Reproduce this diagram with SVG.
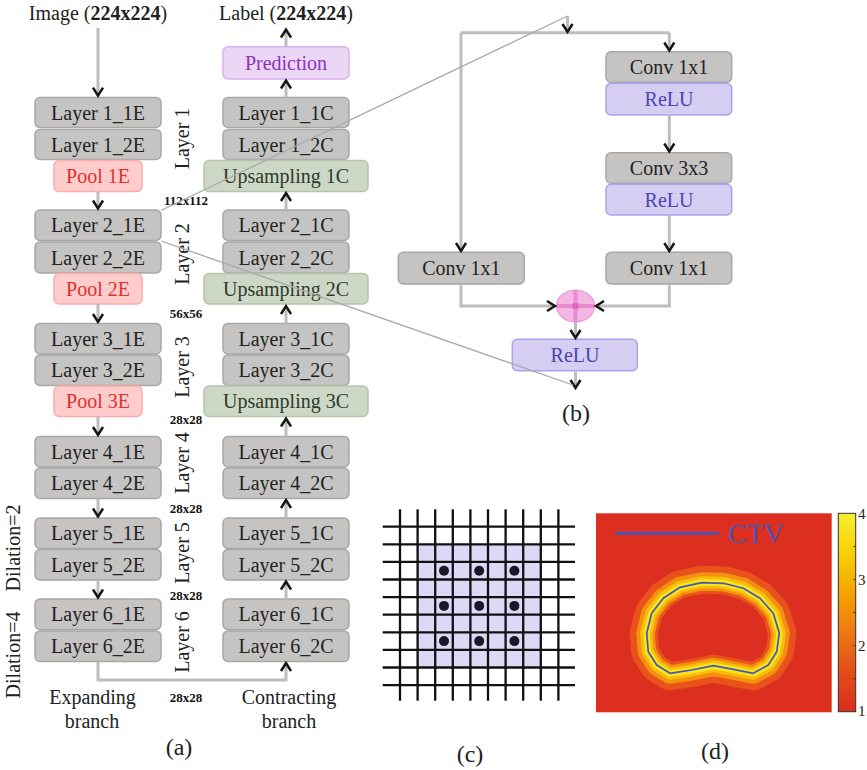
<svg xmlns="http://www.w3.org/2000/svg" xmlns:xlink="http://www.w3.org/1999/xlink" width="867" height="770" viewBox="0 0 867 770">
<style>
text{font-family:"Liberation Serif","DejaVu Serif",serif;font-size:20px;fill:#222}
.c{text-anchor:middle}
.gray{fill:#c5c4c3;stroke:#a8a7a6;stroke-width:1.5}
.pool{fill:#ffcccc;stroke:#ffabab;stroke-width:1.5}
.pt{fill:#e3302c}
.up{fill:#cdd7c6;stroke:#b4c5ac;stroke-width:1.5}
.ut{fill:#2e3a2b}
.pred{fill:#ecd6f6;stroke:#dcb0ee;stroke-width:1.5}
.prt{fill:#8c32c0}
.relu{fill:#d5cef2;stroke:#aaa2ea;stroke-width:1.5}
.rt{fill:#4a45b3}
.sz{font-size:13px;font-weight:bold;text-anchor:middle;fill:#111}
.conn{fill:none;stroke:#bdbdbd;stroke-width:3;marker-end:url(#chev)}
.plain{fill:none;stroke:#bdbdbd;stroke-width:3}
.thin{fill:none;stroke:#aaaaaa;stroke-width:1.3}
.grid line{stroke:#111;stroke-width:2.3}
.lab{font-size:24px}
.tick{font-size:15px;fill:#222}
</style>
<defs>
<marker id="chev" viewBox="-10 -7 12 14" refX="0" refY="0" markerWidth="12" markerHeight="14" markerUnits="userSpaceOnUse" orient="auto" overflow="visible">
<path d="M-8,-5 L0,0 L-8,5" fill="none" stroke="#161616" stroke-width="2.5" stroke-linejoin="miter"/>
</marker>
<path id="ctv" d="M646.7,633.3 L651.7,613.3 L663.3,598.3 L680,587.3 L701.7,582.7 L723.3,583.3 L743.3,588.3 L760,598.3 L773.3,613.3 L779.3,633.3 L776.7,651.7 L768.3,665 L753.3,673.3 L733.3,669.3 L713.3,665.7 L691.7,670 L670,673.3 L656.7,665 L648.3,651.7 Z"/>
<clipPath id="inside"><use xlink:href="#ctv"/></clipPath>
<linearGradient id="cbar" x1="0" y1="0" x2="0" y2="1">
<stop offset="0" stop-color="#f7ee30"/>
<stop offset="0.2" stop-color="#f8d006"/>
<stop offset="0.4" stop-color="#f5a300"/>
<stop offset="0.6" stop-color="#ee7812"/>
<stop offset="0.78" stop-color="#e4501a"/>
<stop offset="1" stop-color="#db2e20"/>
</linearGradient>
</defs>
<rect width="867" height="770" fill="#ffffff"/>

<!-- Titles -->
<g id="title-image"><text x="98" y="20" class="c">Image (<tspan font-weight="bold">224x224</tspan>)</text></g>
<g id="title-label"><text x="286" y="20" class="c">Label (<tspan font-weight="bold">224x224</tspan>)</text></g>

<!-- Expanding branch -->
<g id="L1_1E"><rect class="gray" x="35" y="97.5" width="126" height="30" rx="5"/><text class="c" x="98" y="119.5">Layer 1_1E</text></g>
<g id="L1_2E"><rect class="gray" x="35" y="129.5" width="126" height="30" rx="5"/><text class="c" x="98" y="151.5">Layer 1_2E</text></g>
<g id="P1E"><rect class="pool" x="54" y="160.5" width="88" height="31" rx="5"/><text class="c pt" x="98" y="183">Pool 1E</text></g>
<g id="L2_1E"><rect class="gray" x="35" y="210" width="126" height="30.5" rx="5"/><text class="c" x="98" y="232.3">Layer 2_1E</text></g>
<g id="L2_2E"><rect class="gray" x="35" y="242" width="126" height="31" rx="5"/><text class="c" x="98" y="264.5">Layer 2_2E</text></g>
<g id="P2E"><rect class="pool" x="54" y="273.5" width="88" height="30.5" rx="5"/><text class="c pt" x="98" y="295.8">Pool 2E</text></g>
<g id="L3_1E"><rect class="gray" x="35" y="323.5" width="126" height="30.5" rx="5"/><text class="c" x="98" y="345.8">Layer 3_1E</text></g>
<g id="L3_2E"><rect class="gray" x="35" y="355" width="126" height="30.5" rx="5"/><text class="c" x="98" y="377.3">Layer 3_2E</text></g>
<g id="P3E"><rect class="pool" x="54" y="386" width="88" height="30.5" rx="5"/><text class="c pt" x="98" y="408.3">Pool 3E</text></g>
<g id="L4_1E"><rect class="gray" x="35" y="436.5" width="126" height="30.5" rx="5"/><text class="c" x="98" y="458.8">Layer 4_1E</text></g>
<g id="L4_2E"><rect class="gray" x="35" y="468" width="126" height="30.5" rx="5"/><text class="c" x="98" y="490.3">Layer 4_2E</text></g>
<g id="L5_1E"><rect class="gray" x="35" y="518" width="126" height="30.5" rx="5"/><text class="c" x="98" y="540.3">Layer 5_1E</text></g>
<g id="L5_2E"><rect class="gray" x="35" y="549.5" width="126" height="30.5" rx="5"/><text class="c" x="98" y="571.8">Layer 5_2E</text></g>
<g id="L6_1E"><rect class="gray" x="35" y="599" width="126" height="30.5" rx="5"/><text class="c" x="98" y="621.3">Layer 6_1E</text></g>
<g id="L6_2E"><rect class="gray" x="35" y="631" width="126" height="30.5" rx="5"/><text class="c" x="98" y="653.3">Layer 6_2E</text></g>

<!-- Contracting branch -->
<g id="Pred"><rect class="pred" x="223" y="46.7" width="126" height="32.3" rx="5"/><text class="c prt" x="286" y="69.8">Prediction</text></g>
<g id="L1_1C"><rect class="gray" x="223" y="97.5" width="126" height="30" rx="5"/><text class="c" x="286" y="119.5">Layer 1_1C</text></g>
<g id="L1_2C"><rect class="gray" x="223" y="129.5" width="126" height="30" rx="5"/><text class="c" x="286" y="151.5">Layer 1_2C</text></g>
<g id="U1C"><rect class="up" x="204" y="160.5" width="164" height="31" rx="5"/><text class="c ut" x="286" y="183">Upsampling 1C</text></g>
<g id="L2_1C"><rect class="gray" x="223" y="210" width="126" height="30.5" rx="5"/><text class="c" x="286" y="232.3">Layer 2_1C</text></g>
<g id="L2_2C"><rect class="gray" x="223" y="242" width="126" height="31" rx="5"/><text class="c" x="286" y="264.5">Layer 2_2C</text></g>
<g id="U2C"><rect class="up" x="204" y="273.5" width="164" height="30.5" rx="5"/><text class="c ut" x="286" y="295.8">Upsampling 2C</text></g>
<g id="L3_1C"><rect class="gray" x="223" y="323.5" width="126" height="30.5" rx="5"/><text class="c" x="286" y="345.8">Layer 3_1C</text></g>
<g id="L3_2C"><rect class="gray" x="223" y="355" width="126" height="30.5" rx="5"/><text class="c" x="286" y="377.3">Layer 3_2C</text></g>
<g id="U3C"><rect class="up" x="204" y="386" width="164" height="30.5" rx="5"/><text class="c ut" x="286" y="408.3">Upsampling 3C</text></g>
<g id="L4_1C"><rect class="gray" x="223" y="436.5" width="126" height="30.5" rx="5"/><text class="c" x="286" y="458.8">Layer 4_1C</text></g>
<g id="L4_2C"><rect class="gray" x="223" y="468" width="126" height="30.5" rx="5"/><text class="c" x="286" y="490.3">Layer 4_2C</text></g>
<g id="L5_1C"><rect class="gray" x="223" y="518" width="126" height="30.5" rx="5"/><text class="c" x="286" y="540.3">Layer 5_1C</text></g>
<g id="L5_2C"><rect class="gray" x="223" y="549.5" width="126" height="30.5" rx="5"/><text class="c" x="286" y="571.8">Layer 5_2C</text></g>
<g id="L6_1C"><rect class="gray" x="223" y="599" width="126" height="30.5" rx="5"/><text class="c" x="286" y="621.3">Layer 6_1C</text></g>
<g id="L6_2C"><rect class="gray" x="223" y="631" width="126" height="30.5" rx="5"/><text class="c" x="286" y="653.3">Layer 6_2C</text></g>

<!-- Side labels -->
<g id="layer-labels">
<text class="c" transform="translate(188.5,138.5) rotate(-90)">Layer 1</text>
<text class="c" transform="translate(188.5,254) rotate(-90)">Layer 2</text>
<text class="c" transform="translate(188.5,367) rotate(-90)">Layer 3</text>
<text class="c" transform="translate(188.5,463) rotate(-90)">Layer 4</text>
<text class="c" transform="translate(188.5,553) rotate(-90)">Layer 5</text>
<text class="c" transform="translate(188.5,642) rotate(-90)">Layer 6</text>
<text class="c" transform="translate(20,548) rotate(-90)">Dilation=2</text>
<text class="c" transform="translate(20,655) rotate(-90)">Dilation=4</text>
</g>
<g id="size-labels">
<text class="sz" x="186" y="205">112x112</text>
<text class="sz" x="186" y="318">56x56</text>
<text class="sz" x="186" y="424">28x28</text>
<text class="sz" x="186" y="513">28x28</text>
<text class="sz" x="186" y="600">28x28</text>
<text class="sz" x="186" y="702">28x28</text>
</g>
<g id="branch-labels">
<text class="c" x="92.5" y="704">Expanding</text>
<text class="c" x="92" y="728">branch</text>
<text class="c" x="289" y="704">Contracting</text>
<text class="c" x="289" y="728">branch</text>
</g>

<!-- Part (b) nodes -->
<g id="B_conv1"><rect class="gray" x="606" y="51.7" width="125.7" height="30.6" rx="5"/><text class="c" x="669" y="74">Conv 1x1</text></g>
<g id="B_relu1"><rect class="relu" x="606" y="83.3" width="125.7" height="31.7" rx="5"/><text class="c rt" x="669" y="106.2">ReLU</text></g>
<g id="B_conv3"><rect class="gray" x="606" y="152.7" width="125.7" height="30.6" rx="5"/><text class="c" x="669" y="175">Conv 3x3</text></g>
<g id="B_relu2"><rect class="relu" x="606" y="184.3" width="125.7" height="30.7" rx="5"/><text class="c rt" x="669" y="206.7">ReLU</text></g>
<g id="B_conv1r"><rect class="gray" x="606" y="252.3" width="125.7" height="31.7" rx="5"/><text class="c" x="669" y="275.2">Conv 1x1</text></g>
<g id="B_conv1l"><rect class="gray" x="398.3" y="252.3" width="126" height="31.7" rx="5"/><text class="c" x="461.3" y="275.2">Conv 1x1</text></g>
<g id="B_add">
<ellipse cx="575.5" cy="306" rx="19" ry="16" fill="#f4b6e2" stroke="#e99bd8" stroke-width="1.2"/>
<line x1="556.5" y1="306" x2="594.5" y2="306" stroke="#e98ad2" stroke-width="4"/>
<line x1="575.5" y1="290" x2="575.5" y2="322" stroke="#e98ad2" stroke-width="4"/>
<rect x="572.5" y="303" width="6" height="6" fill="#d96ac3"/>
</g>
<g id="B_relu3"><rect class="relu" x="512.3" y="339.3" width="125" height="31.4" rx="5"/><text class="c rt" x="575" y="362">ReLU</text></g>

<!-- Connectors -->
<g id="connectors">
<path class="conn" d="M98,28 V95.7"/>
<path class="conn" d="M98,191.5 V208.5"/>
<path class="conn" d="M98,304 V322"/>
<path class="conn" d="M98,416.5 V435"/>
<path class="conn" d="M98,498.5 V516.5"/>
<path class="conn" d="M98,580 V597.5"/>
<path class="conn" d="M286,97.5 V80.5"/>
<path class="conn" d="M286,46.7 V29.5"/>
<path class="conn" d="M286,210 V193"/>
<path class="conn" d="M286,323.5 V306"/>
<path class="conn" d="M286,436.5 V418.5"/>
<path class="conn" d="M286,518 V500"/>
<path class="conn" d="M286,599 V581.5"/>
<path class="conn" d="M98,661.5 V680 H286 V663"/>
<path class="plain" d="M461,32.7 H669.3"/>
<path class="conn" d="M567.5,16 V32"/>
<path class="conn" d="M669.3,32.7 V50.5"/>
<path class="conn" d="M461,32.7 V251"/>
<path class="conn" d="M669.3,115 V151.5"/>
<path class="conn" d="M669.3,215 V251"/>
<path class="conn" d="M461,284 V306 H555"/>
<path class="conn" d="M669.3,284 V306 H596"/>
<path class="conn" d="M575.5,322 V338"/>
<path class="conn" d="M575.5,370.7 V388"/>
<path class="thin" d="M161,210.5 L567.5,16"/>
<path class="thin" d="M161,241 L573,385"/>
</g>

<!-- Part (c) -->
<g id="dilated-grid">
<rect x="417.6" y="544.3" width="123.2" height="123.2" fill="#dcd8f5"/>
<g class="grid">
<line x1="400" y1="509.3" x2="400" y2="700.7"/>
<line x1="417.6" y1="509.3" x2="417.6" y2="700.7"/>
<line x1="435.2" y1="509.3" x2="435.2" y2="700.7"/>
<line x1="452.8" y1="509.3" x2="452.8" y2="700.7"/>
<line x1="470.4" y1="509.3" x2="470.4" y2="700.7"/>
<line x1="488" y1="509.3" x2="488" y2="700.7"/>
<line x1="505.6" y1="509.3" x2="505.6" y2="700.7"/>
<line x1="523.2" y1="509.3" x2="523.2" y2="700.7"/>
<line x1="540.8" y1="509.3" x2="540.8" y2="700.7"/>
<line x1="558.4" y1="509.3" x2="558.4" y2="700.7"/>
<line x1="382.7" y1="526.7" x2="575" y2="526.7"/>
<line x1="382.7" y1="544.3" x2="575" y2="544.3"/>
<line x1="382.7" y1="561.9" x2="575" y2="561.9"/>
<line x1="382.7" y1="579.5" x2="575" y2="579.5"/>
<line x1="382.7" y1="597.1" x2="575" y2="597.1"/>
<line x1="382.7" y1="614.7" x2="575" y2="614.7"/>
<line x1="382.7" y1="632.3" x2="575" y2="632.3"/>
<line x1="382.7" y1="649.9" x2="575" y2="649.9"/>
<line x1="382.7" y1="667.5" x2="575" y2="667.5"/>
<line x1="382.7" y1="685.1" x2="575" y2="685.1"/>
</g>
<g fill="#181826">
<circle cx="444" cy="570.7" r="5"/><circle cx="479.2" cy="570.7" r="5"/><circle cx="514.4" cy="570.7" r="5"/>
<circle cx="444" cy="605.9" r="5"/><circle cx="479.2" cy="605.9" r="5"/><circle cx="514.4" cy="605.9" r="5"/>
<circle cx="444" cy="641.1" r="5"/><circle cx="479.2" cy="641.1" r="5"/><circle cx="514.4" cy="641.1" r="5"/>
</g>
</g>

<!-- Part (d) -->
<g id="weight-map">
<rect x="596" y="513.3" width="235.7" height="199" fill="#dc2f20"/>
<g fill="none" stroke-linejoin="round">
<use xlink:href="#ctv" stroke="#e9531b" stroke-width="34"/>
<use xlink:href="#ctv" stroke="#f3900f" stroke-width="21"/>
<use xlink:href="#ctv" stroke="#f8bd0b" stroke-width="13"/>
<use xlink:href="#ctv" stroke="#f6e41c" stroke-width="7"/>
</g>
<g clip-path="url(#inside)" stroke-linejoin="round">
<use xlink:href="#ctv" fill="#dc2f20"/>
<use xlink:href="#ctv" fill="none" stroke="#e9531b" stroke-width="22"/>
<use xlink:href="#ctv" fill="none" stroke="#f3900f" stroke-width="16"/>
<use xlink:href="#ctv" fill="none" stroke="#f8bd0b" stroke-width="11"/>
<use xlink:href="#ctv" fill="none" stroke="#f6e41c" stroke-width="6"/>
</g>
<use xlink:href="#ctv" fill="none" stroke="#4b55b5" stroke-width="1.7" stroke-linejoin="round"/>
<line x1="615" y1="533.3" x2="719" y2="533.3" stroke="#4b55b5" stroke-width="3"/>
<text x="728" y="543" style="font-size:28px;fill:#4b55b5">CTV</text>
</g>
<g id="colorbar">
<rect x="838.3" y="513.3" width="17.4" height="198.4" fill="url(#cbar)" stroke="#333" stroke-width="1"/>
<g stroke="#333" stroke-width="1">
<line x1="853.5" y1="546.4" x2="855.7" y2="546.4"/>
<line x1="853.5" y1="579.4" x2="855.7" y2="579.4"/>
<line x1="853.5" y1="612.5" x2="855.7" y2="612.5"/>
<line x1="853.5" y1="645.6" x2="855.7" y2="645.6"/>
<line x1="853.5" y1="678.7" x2="855.7" y2="678.7"/>
</g>
<text class="tick" x="858" y="518.5">4</text>
<text class="tick" x="858" y="585">3</text>
<text class="tick" x="858" y="650.5">2</text>
<text class="tick" x="858" y="716">1</text>
</g>

<!-- Panel labels -->
<g id="panel-labels">
<text class="c lab" x="179" y="755">(a)</text>
<text class="c lab" x="576" y="420.5">(b)</text>
<text class="c lab" x="470" y="762">(c)</text>
<text class="c lab" x="715" y="759">(d)</text>
</g>
</svg>
